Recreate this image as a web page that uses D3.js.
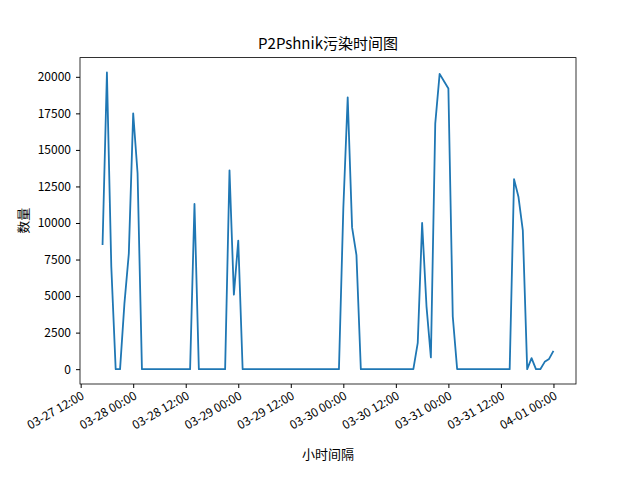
<!DOCTYPE html><html><head><meta charset="utf-8"><script src="https://cdn.jsdelivr.net/npm/d3@7"></script>
<style>body{margin:0;background:#fff}text{font-family:"Noto Sans CJK SC","DejaVu Sans",sans-serif}</style></head><body><svg id="c" width="640" height="480"></svg><script>
const title="P2Pshnik污染时间图", xLabel="小时间隔", yLabel="数量";
const startTime="2024-03-27T17:00:00Z";
const values=[8500,20300,7000,0,0,4500,7900,17500,13400,0,
0,0,0,0,0,0,0,0,0,0,
0,11300,0,0,0,0,0,0,0,13600,
5100,8800,0,0,0,0,0,0,0,0,
0,0,0,0,0,0,0,0,0,0,
0,0,0,0,0,11000,18600,9700,7800,0,
0,0,0,0,0,0,0,0,0,0,
0,0,1800,10000,4300,800,16800,20200,19700,19200,
3600,0,0,0,0,0,0,0,0,0,
0,0,0,0,13000,11800,9500,0,750,0,
0,500,700,1250];
const yTicks=[0,2500,5000,7500,10000,12500,15000,17500,20000];
const xTicks=["2024-03-27T12:00:00Z","2024-03-28T00:00:00Z","2024-03-28T12:00:00Z","2024-03-29T00:00:00Z","2024-03-29T12:00:00Z","2024-03-30T00:00:00Z","2024-03-30T12:00:00Z","2024-03-31T00:00:00Z","2024-03-31T12:00:00Z","2024-04-01T00:00:00Z"];
const t0=new Date(startTime);
const data=values.map((v,i)=>({t:d3.utcHour.offset(t0,i),v}));
const L=80,R=576,T=57.6,B=384;
const t1=data[data.length-1].t, span=t1-t0, ymax=d3.max(values);
const x=d3.scaleUtc().domain([new Date(+t0-span*0.05),new Date(+t1+span*0.05)]).range([L,R]);
const y=d3.scaleLinear().domain([-ymax*0.05,ymax*1.05]).range([B,T]);
const svg=d3.select("#c");
svg.append("path").datum(data).attr("fill","none").attr("stroke","#1f77b4").attr("stroke-width",1.8).attr("stroke-linejoin","round")
 .attr("d",d3.line().x(d=>x(d.t)).y(d=>y(d.v)));
const fmt=d3.utcFormat("%m-%d %H:%M");
const xa=svg.append("g").attr("transform",`translate(0,${B})`).call(d3.axisBottom(x).tickValues(xTicks.map(s=>new Date(s))).tickFormat(fmt).tickSizeOuter(0).tickSize(4));
xa.selectAll("text").attr("font-size",12).attr("fill","#000").attr("text-anchor","end").attr("dx","-0.3em").attr("dy","0.6em").attr("transform","rotate(-30)");
const ya=svg.append("g").attr("transform",`translate(${L},0)`).call(d3.axisLeft(y).tickValues(yTicks).tickFormat(d3.format("d")).tickSizeOuter(0).tickSize(4).tickPadding(5));
ya.selectAll("text").attr("font-size",12).attr("fill","#000");
[xa,ya].forEach(a=>{a.select(".domain").remove();a.selectAll("line").attr("stroke","#000");});
svg.append("rect").attr("x",L).attr("y",T).attr("width",R-L).attr("height",B-T).attr("fill","none").attr("stroke","#000").attr("stroke-width",0.8);
svg.append("text").attr("x",(L+R)/2).attr("y",T-9).attr("text-anchor","middle").attr("font-size",15).text(title);
svg.append("text").attr("x",(L+R)/2).attr("y",459).attr("text-anchor","middle").attr("font-size",13).text(xLabel);
svg.append("text").attr("transform",`translate(28,${(T+B)/2}) rotate(-90)`).attr("text-anchor","middle").attr("font-size",13).text(yLabel);
</script></body></html>
